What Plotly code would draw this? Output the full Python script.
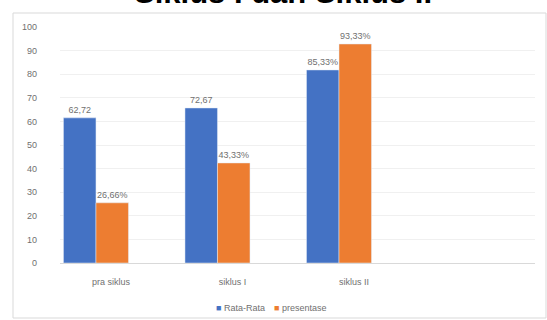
import plotly.graph_objects as go

categories = ["pra siklus", "siklus I", "siklus II"]
rata_rata = [61.5, 65.7, 81.8]
presentase = [25.5, 42.4, 92.8]
rata_labels = ["62,72", "72,67", "85,33%"]
pres_labels = ["26,66%", "43,33%", "93,33%"]
y_ticks = [0, 10, 20, 30, 40, 50, 60, 70, 80, 90, 100]
series_names = ["Rata-Rata", "presentase"]
series_colors = ["#4472C4", "#ED7D31"]
title_text = "Siklus I dan Siklus II"

W, H = 547, 320
L, R, T, B = 60, 12, 27, 57
pw, ph = W - L - R, H - T - B

def px_x(p):
    return (p - L) / pw

def px_y(p):
    return (H - B - p) / ph

label_font = dict(family="Liberation Sans, Arial", size=9, color="#707070")

fig = go.Figure()
for vals, labels, name, color in [(rata_rata, rata_labels, series_names[0], series_colors[0]),
                                  (presentase, pres_labels, series_names[1], series_colors[1])]:
    fig.add_trace(go.Bar(x=categories, y=vals, name=name, marker_color=color,
                         text=labels, textposition="outside", textfont=label_font,
                         cliponaxis=False, showlegend=False))

fig.update_layout(
    width=W, height=H,
    margin=dict(l=L, r=R, t=T, b=B, autoexpand=False),
    paper_bgcolor="white", plot_bgcolor="white",
    barmode="group", bargap=0.465, bargroupgap=0,
    font=label_font,
    showlegend=False,
    xaxis=dict(type="category", range=[-0.296, 3.613], showline=True, linecolor="#d9d9d9",
               linewidth=1, ticks="", showgrid=False, ticklabelshift=15, ticklabelstandoff=10,
               tickfont=label_font, fixedrange=True, automargin=False),
    yaxis=dict(range=[0, 100], tickvals=y_ticks, showgrid=True, gridcolor="#f0f0f0",
               zeroline=False, showline=False, ticks="", ticklabelstandoff=22,
               tickfont=label_font, fixedrange=True, automargin=False),
)

# legend (drawn as text so symbol/label spacing matches the Excel look)
legend_x = [214, 272]
for name, color, lx in zip(series_names, series_colors, legend_x):
    fig.add_annotation(text=f"<span style='color:{color}'>■</span> {name}",
                       xref="paper", yref="paper", x=px_x(lx), y=px_y(308),
                       xanchor="left", yanchor="middle", showarrow=False,
                       font=dict(family="Liberation Sans, Arial", size=9, color="#707070"))

fig.add_annotation(text="<b>" + title_text + "</b>", xref="paper", yref="paper",
                   x=px_x(283), y=px_y(12), xanchor="center", yanchor="bottom",
                   showarrow=False, font=dict(family="Liberation Sans, Arial", size=31, color="black"))

fig.add_shape(type="rect", xref="paper", yref="paper",
              x0=px_x(13), x1=px_x(546), y0=px_y(318), y1=px_y(13),
              line=dict(color="#d9d9d9", width=1), fillcolor="rgba(0,0,0,0)", layer="below")

fig.write_html("out.html", config={"displayModeBar": False},
               post_script="document.body.style.margin='0';")
